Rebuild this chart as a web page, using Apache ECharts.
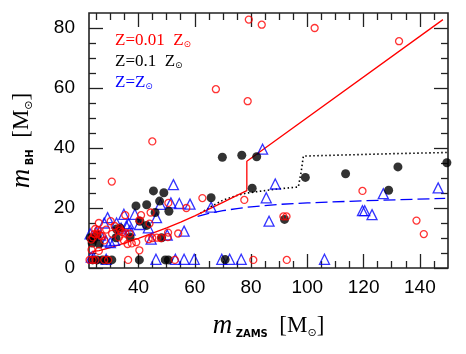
<!DOCTYPE html>
<html>
<head>
<meta charset="utf-8">
<script src="https://cdn.jsdelivr.net/npm/echarts@6/dist/echarts.min.js"></script>
<style>
  html, body { margin: 0; padding: 0; background: #fff; }
  #chart { width: 466px; height: 354px; }
</style>
</head>
<body>
<div id="chart"></div>
<script>
// m_ZAMS vs m_BH, three metallicities
const lowZ = [
  [79.2, 82.8], [83.8, 81.1], [102.6, 80], [132.6, 75.6], [67.5, 59.6], [78.8, 55.6],
  [44.9, 42.2], [30.5, 28.8], [119.6, 25.7], [62.7, 23.3], [77.6, 22.7], [57, 20],
  [138.8, 15.8], [141.4, 11.3], [91.5, 17.2], [92.6, 17.2], [80.8, 2.7], [92.7, 2.7],
  [52.9, 2.7], [36.3, 2.7],
  [30.1, 15.6], [35.3, 17.6], [40.9, 17.6], [40.3, 15.9], [44.3, 18.5], [43.9, 14.8],
  [50.5, 11.8], [50.4, 10.3], [54.1, 11.5], [50.6, 21.7], [43.6, 9.6], [44.9, 10],
  [46.5, 10.1], [48, 10], [40.3, 5.9], [36.1, 8], [37.6, 8.2], [39.2, 8.6],
  [33.2, 13.3], [34.1, 12], [35.3, 11.7], [36.8, 11.5], [33, 10.2], [34.8, 9.2],
  [30.6, 11.4], [27.8, 9.2], [27.1, 10.6], [25.6, 12.6], [24.6, 13], [24.3, 11.3],
  [23.8, 10.2], [23.2, 9.5], [25.3, 11.5], [26.5, 10.8], [25.9, 15], [23.3, 6.1],
  [25.9, 5.7], [22.6, 2.7], [23.7, 2.7], [24.7, 2.7], [27.8, 2.7], [29.2, 2.7],
  [28.5, 12.8], [31.5, 14], [33.5, 12.5]
];
const midZ = [
  [69.8, 36.9], [76.7, 37.6], [82, 37.1], [80.4, 26.6], [99.3, 30.2], [113.6, 31.4],
  [132.2, 33.7], [149.6, 35.1], [128.9, 25.9], [91.9, 16.2], [65.8, 23.4], [70.8, 2.8],
  [45.3, 25.7], [49, 25.1], [47.5, 22.3], [50.8, 18.9], [45.9, 18.5], [39.1, 20.7],
  [42.9, 21.1], [42.9, 14.2], [40.5, 15.6], [37, 10.3], [48.2, 10.1], [32, 10.1],
  [32.2, 13], [40.3, 2.7], [49.5, 2.7], [50.6, 2.7],
  [22, 7], [22.3, 9.2], [22.9, 10.1], [24, 9.6], [25.3, 10.9], [23.5, 8.3], [26, 8],
  [33.5, 13.3], [22.2, 2.7], [23.7, 2.7], [25.3, 2.7], [27.2, 2.7], [28.7, 2.7], [30.5, 2.7]
];
const solarZ = [
  [84.1, 39.6], [88.6, 28], [85.4, 23.4], [86.4, 15.6], [127, 24.8], [146.5, 26.7],
  [119.6, 19.1], [120.4, 19.1], [123, 17.8], [65.8, 20.3], [52.4, 27.8], [56.2, 12.3],
  [54.5, 21.5], [58.3, 21.3], [51.5, 21.7], [47.8, 21.2], [46.4, 16.8],
  [106.1, 2.9], [76.5, 2.9], [69.6, 2.9], [72.4, 2.9], [59.8, 2.9], [56.2, 2.9],
  [53.1, 2.9], [46.2, 2.9], [28.5, 2.9],
  [29, 16.8], [27.8, 15], [32.2, 15], [34.8, 17.9], [36.5, 14.8], [37, 12.6],
  [38.7, 17.9], [40.3, 14.5], [43.5, 13.4], [44.5, 9.6], [50.2, 11], [25, 12],
  [26.5, 11], [28.5, 9], [30, 8.5], [31.5, 9.2], [22.8, 11.4], [23.2, 3.6], [24, 3.4],
  [33.8, 13.3], [35.7, 14]
];
// model curves
const lowZLine = [
  [23.5, 5.5], [26, 5.8], [30, 6.8], [35, 8.3], [40, 9.9], [45, 11.6], [50, 13.4],
  [55, 15.3], [60, 17.4], [65, 19.6], [70, 21.9], [75, 24.2], [78.5, 25.8],
  [78.5, 35.6], [148.2, 82.8]
];
const midZLine = [
  [62, 18.3], [66, 20.6], [70, 22.6], [75, 24.2], [78.5, 25], [85, 25.8], [90, 26.4],
  [96.8, 27], [97.8, 32], [98.6, 37.3], [110, 37.6], [130, 38.1], [150, 38.5]
];
const solarZLine = [
  [61, 17.2], [65, 18.2], [70, 19.1], [75, 19.8], [80, 20.4], [90, 21.2], [100, 21.7],
  [120, 22.4], [149, 23.2]
];
const xMajor = [40, 60, 80, 100, 120, 140];
const xMinor = [25, 30, 35, 45, 50, 55, 65, 70, 75, 85, 90, 95, 105, 110, 115, 125, 130, 135, 145];
const yMajor = [0, 20, 40, 60, 80];
const yMinor = [5, 10, 15, 25, 30, 35, 45, 50, 55, 65, 70, 75];

const xMin = 22.4, xMax = 150, yMin = 0, yMax = 85;

const chart = echarts.init(document.getElementById('chart'));

const nameRich = {
  m: { fontFamily: 'Liberation Serif', fontStyle: 'italic', fontSize: 27, color: '#000' },
  s: { fontFamily: 'DejaVu Sans', fontWeight: 'bold', fontSize: 10, color: '#000', verticalAlign: 'bottom', lineHeight: 6 },
  b: { fontFamily: 'Liberation Serif', fontSize: 23, color: '#000' },
  o: { fontFamily: 'DejaVu Sans', fontSize: 11, color: '#000', verticalAlign: 'bottom', lineHeight: 8 }
};

function xAx (pos, ticks, len, labels, extra) {
  return Object.assign({
    type: 'value',
    position: pos,
    min: xMin,
    max: xMax,
    axisLine: { show: false, onZero: false },
    axisTick: { show: true, inside: true, length: len, customValues: ticks, lineStyle: { color: '#222', width: 1.3 } },
    axisLabel: labels ? { show: true, customValues: xMajor, fontFamily: 'Liberation Sans', fontSize: 19, color: '#000', margin: 10 } : { show: false },
    splitLine: { show: false }
  }, extra || {})
}
function yAx (pos, ticks, len, labels, extra) {
  return Object.assign({
    type: 'value',
    position: pos,
    min: yMin,
    max: yMax,
    axisLine: { show: false, onZero: false },
    axisTick: { show: true, inside: true, length: len, customValues: ticks, lineStyle: { color: '#222', width: 1.3 } },
    axisLabel: labels ? { show: true, customValues: yMajor, fontFamily: 'Liberation Sans', fontSize: 19, color: '#000', margin: 14 } : { show: false },
    splitLine: { show: false }
  }, extra || {})
}

const options = {
  animation: false,
  grid: { left: 87, right: 18, top: 13, bottom: 86, show: true, borderColor: '#222', borderWidth: 1.6, backgroundColor: 'transparent' },
  xAxis: [
    xAx('bottom', xMajor, 14, true, {
      name: '{m|m}{s| ZAMS}{b|  [M}{o|⊙}{b|]}',
      nameLocation: 'middle',
      nameGap: 44,
      nameTextStyle: { rich: nameRich }
    }),
    xAx('bottom', xMinor, 7, false),
    xAx('top', xMajor, 14, false),
    xAx('top', xMinor, 7, false)
  ],
  yAxis: [
    yAx('left', yMajor, 14, true, {
      name: '{m|m}{s| BH}{b|  [M}{o|⊙}{b|]}',
      nameLocation: 'middle',
      nameGap: 54,
      nameRotate: 90,
      nameTextStyle: { rich: nameRich }
    }),
    yAx('left', yMinor, 7, false),
    yAx('right', yMajor, 14, false),
    yAx('right', yMinor, 7, false)
  ],
  graphic: [
    {
      type: 'text', left: 115, top: 32,
      style: {
        text: '{a|Z=0.01  Z}{o|⊙}',
        rich: {
          a: { fontFamily: 'Liberation Serif', fontSize: 17, fill: '#ff0000' },
          o: { fontFamily: 'DejaVu Sans', fontSize: 9, fill: '#ff0000', verticalAlign: 'bottom', lineHeight: 6 }
        }
      }
    },
    {
      type: 'text', left: 115, top: 53,
      style: {
        text: '{a|Z=0.1  Z}{o|⊙}',
        rich: {
          a: { fontFamily: 'Liberation Serif', fontSize: 17, fill: '#000' },
          o: { fontFamily: 'DejaVu Sans', fontSize: 9, fill: '#000', verticalAlign: 'bottom', lineHeight: 6 }
        }
      }
    },
    {
      type: 'text', left: 115, top: 74,
      style: {
        text: '{a|Z=Z}{o|⊙}',
        rich: {
          a: { fontFamily: 'Liberation Serif', fontSize: 17, fill: '#0000ff' },
          o: { fontFamily: 'DejaVu Sans', fontSize: 9, fill: '#0000ff', verticalAlign: 'bottom', lineHeight: 6 }
        }
      }
    }
  ],
  series: [
    {
      name: 'Z=0.1 line',
      type: 'line',
      data: midZLine,
      showSymbol: false,
      lineStyle: { color: '#000', width: 1.6, type: [1.5, 2.5] },
      z: 2
    },
    {
      name: 'Z=Zsun line',
      type: 'line',
      data: solarZLine,
      showSymbol: false,
      lineStyle: { color: '#0000ff', width: 1.3, type: [12, 5] },
      z: 2
    },
    {
      name: 'Z=0.01 line',
      type: 'line',
      data: lowZLine,
      showSymbol: false,
      lineStyle: { color: '#ff0000', width: 1.3 },
      z: 3
    },
    {
      name: 'Z=Zsun',
      type: 'scatter',
      data: solarZ,
      symbol: 'triangle',
      symbolSize: 10,
      itemStyle: { color: 'none', borderColor: '#0000ff', borderWidth: 1.3 },
      z: 4
    },
    {
      name: 'Z=0.1',
      type: 'scatter',
      data: midZ,
      symbol: 'circle',
      symbolSize: 9,
      itemStyle: { color: '#000', borderWidth: 0 },
      z: 5
    },
    {
      name: 'Z=0.01',
      type: 'scatter',
      data: lowZ,
      symbol: 'circle',
      symbolSize: 7,
      itemStyle: { color: 'none', borderColor: '#ff0000', borderWidth: 1.3 },
      z: 6
    }
  ]
}
chart.setOption(options)
</script>
</body>
</html>
